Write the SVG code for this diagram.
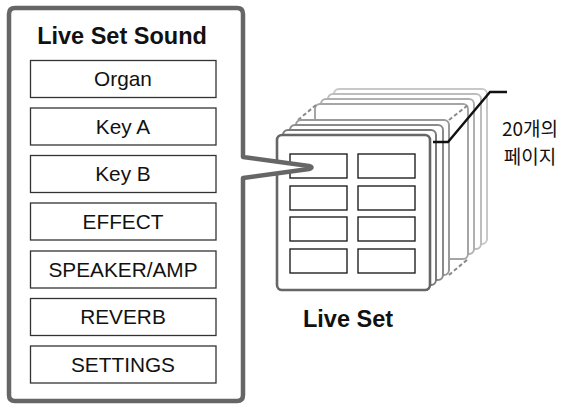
<svg xmlns="http://www.w3.org/2000/svg" width="568" height="405" viewBox="0 0 568 405">
<style>
.item{fill:#fff;stroke:#333;stroke-width:1.3}
.cell{fill:#fff;stroke:#222;stroke-width:1.4}
.lbl{font-family:"Liberation Sans",Arial,sans-serif;font-size:20.8px;fill:#111;text-anchor:middle}
.ttl{font-family:"Liberation Sans",Arial,sans-serif;font-size:23.5px;font-weight:bold;fill:#111;text-anchor:middle}
.kr{font-family:"Noto Sans CJK KR","Liberation Sans",sans-serif;font-size:19px;fill:#111;text-anchor:middle}
.pg{fill:#fff;stroke-width:2}
.dash{fill:none;stroke:#8a8a8a;stroke-width:2;stroke-dasharray:4 2.5}
</style>
<g id="live-set">
  <rect class="pg" x="334" y="89" width="153" height="155" rx="5" stroke="#c8c8c8"/>
  <rect class="pg" x="328" y="94" width="153" height="155" rx="5" stroke="#bdbdbd"/>
  <rect class="pg" x="321" y="99" width="153" height="155" rx="5" stroke="#b0b0b0"/>
  <rect class="pg" x="315" y="104" width="153" height="155" rx="5" stroke="#a5a5a5"/>
  <path class="dash" d="M298,120 L316,105 M449,120 L468,105 M449,275 L468,259"/>
  <rect class="pg" x="296" y="120" width="153" height="155" rx="5" stroke="#9a9a9a"/>
  <rect class="pg" x="290" y="125" width="153" height="155" rx="5" stroke="#8a8a8a"/>
  <rect class="pg" x="283" y="130" width="153" height="155" rx="5" stroke="#7a7a7a"/>
  <rect x="277" y="135" width="153" height="155" rx="5" fill="#fff" stroke="#666" stroke-width="2.6"/>
  <rect class="cell" x="290" y="154" width="57" height="24"/>
  <rect class="cell" x="358" y="154" width="57" height="24"/>
  <rect class="cell" x="290" y="186" width="57" height="24"/>
  <rect class="cell" x="358" y="186" width="57" height="24"/>
  <rect class="cell" x="290" y="217" width="57" height="24"/>
  <rect class="cell" x="358" y="217" width="57" height="24"/>
  <rect class="cell" x="290" y="249" width="57" height="24"/>
  <rect class="cell" x="358" y="249" width="57" height="24"/>
  <text class="ttl" x="348" y="327">Live Set</text>
</g>
<g id="pages-label">
  <path d="M433,142 H448 L490,92 H507" fill="none" stroke="#111" stroke-width="2.4"/>
  <text class="kr" x="530" y="136">20개의</text>
  <text class="kr" x="530" y="164">페이지</text>
</g>
<g id="live-set-sound">
  <path d="M15,8 H237 Q243,8 243,14 V157 L309,166 Q314,167.5 309,169 L243,178 V395 Q243,401 237,401 H15 Q9,401 9,395 V14 Q9,8 15,8 Z" fill="#fff" stroke="#666" stroke-width="4.5" stroke-linejoin="round"/>
  <text class="ttl" x="122" y="44">Live Set Sound</text>
</g>
<g id="organ"><rect class="item" x="30.5" y="60.5" width="185.5" height="37"/><text class="lbl" x="123" y="86">Organ</text></g>
<g id="key-a"><rect class="item" x="30.5" y="108" width="185.5" height="37"/><text class="lbl" x="123" y="133.5">Key A</text></g>
<g id="key-b"><rect class="item" x="30.5" y="155.5" width="185.5" height="37"/><text class="lbl" x="123" y="181">Key B</text></g>
<g id="effect"><rect class="item" x="30.5" y="203" width="185.5" height="37"/><text class="lbl" x="123" y="228.5">EFFECT</text></g>
<g id="speaker-amp"><rect class="item" x="30.5" y="251" width="185.5" height="37"/><text class="lbl" x="123" y="276.5">SPEAKER/AMP</text></g>
<g id="reverb"><rect class="item" x="30.5" y="298.5" width="185.5" height="37"/><text class="lbl" x="123" y="324">REVERB</text></g>
<g id="settings"><rect class="item" x="30.5" y="346" width="185.5" height="37"/><text class="lbl" x="123" y="371.5">SETTINGS</text></g>
</svg>
